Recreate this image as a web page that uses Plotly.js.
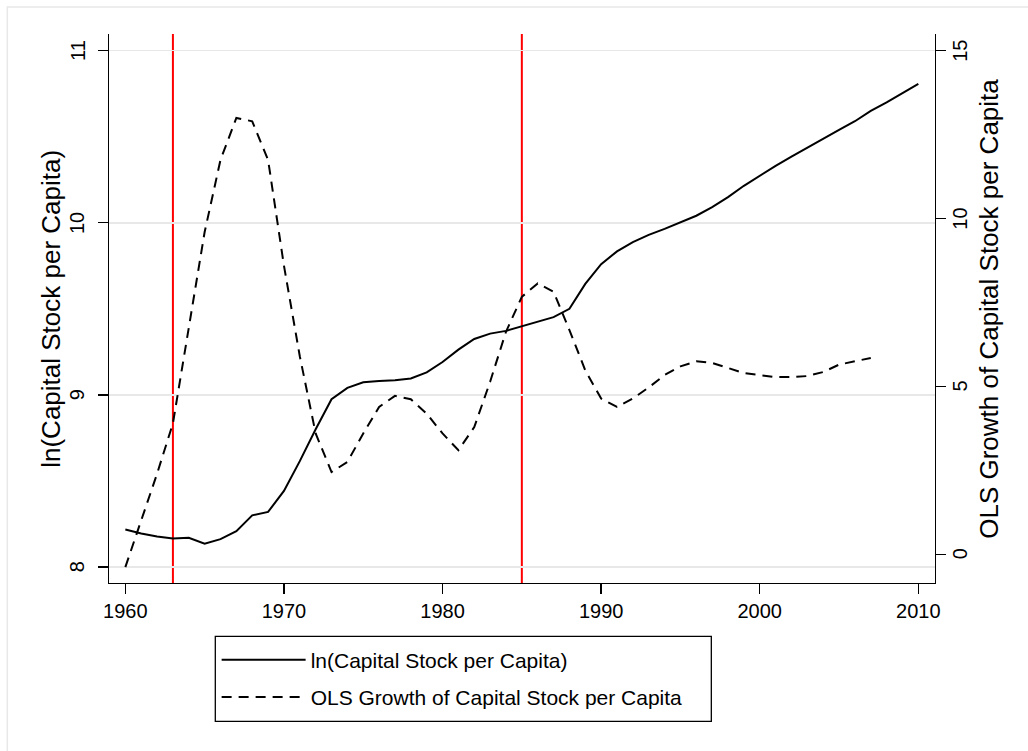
<!DOCTYPE html>
<html>
<head>
<meta charset="utf-8">
<script src="https://cdn.plot.ly/plotly-3.0.1.min.js"></script>
<style>html,body{margin:0;padding:0;background:#fff;}#chart{width:1028px;height:751px;}</style>
</head>
<body>
<div id="chart"></div>
<script>
const years = [1960,1961,1962,1963,1964,1965,1966,1967,1968,1969,1970,1971,1972,1973,1974,1975,1976,1977,1978,1979,1980,1981,1982,1983,1984,1985,1986,1987,1988,1989,1990,1991,1992,1993,1994,1995,1996,1997,1998,1999,2000,2001,2002,2003,2004,2005,2006,2007,2008,2009,2010];
const lnCapital = [8.218,8.195,8.177,8.165,8.170,8.135,8.162,8.208,8.300,8.320,8.442,8.615,8.800,8.975,9.041,9.073,9.081,9.085,9.095,9.131,9.191,9.263,9.325,9.356,9.372,9.398,9.423,9.452,9.500,9.645,9.760,9.834,9.888,9.930,9.965,10.004,10.041,10.091,10.149,10.215,10.275,10.331,10.385,10.437,10.492,10.540,10.590,10.650,10.700,10.753,10.807];
const growthYears = [1960,1961,1962,1963,1964,1965,1966,1967,1968,1969,1970,1971,1972,1973,1974,1975,1976,1977,1978,1979,1980,1981,1982,1983,1984,1985,1986,1987,1988,1989,1990,1991,1992,1993,1994,1995,1996,1997,1998,1999,2000,2001,2002,2003,2004,2005,2006,2007];
const olsGrowth = [-0.38,1.0,2.4,3.9,6.8,9.6,11.75,13.0,12.9,11.75,8.6,5.9,3.6,2.45,2.75,3.6,4.39,4.72,4.62,4.19,3.6,3.10,3.79,5.14,6.63,7.67,8.07,7.82,6.68,5.48,4.64,4.39,4.64,4.97,5.34,5.60,5.75,5.70,5.55,5.40,5.34,5.28,5.28,5.31,5.43,5.65,5.75,5.85];
const breakYears = [1963, 1985];
const xTicks = [1960,1970,1980,1990,2000,2010];
const yLeftTicks = [8,9,10,11];
const yRightTicks = [0,5,10,15];
const seriesNames = ["ln(Capital Stock per Capita)", "OLS Growth of Capital Stock per Capita"];

const FONT = "Liberation Sans, Arial, Helvetica, sans-serif";

const traces = [
  {x: years, y: lnCapital, type: 'scatter', mode: 'lines', name: seriesNames[0],
   line: {color: '#000', width: 2}, yaxis: 'y', legendgroup: 'a'},
  {x: growthYears, y: olsGrowth, type: 'scatter', mode: 'lines', name: seriesNames[1],
   line: {color: '#000', width: 2, dash: '10px,7px'}, yaxis: 'y2', legendgroup: 'b'}
];

const shapes = breakYears.map(yr => ({
  type: 'line', xref: 'x', yref: 'paper', x0: yr, x1: yr, y0: 0, y1: 1,
  line: {color: '#ff0000', width: 2}, layer: 'below'
}));
// outer graph-region frame
shapes.push({type: 'rect', xref: 'paper', yref: 'paper', x0: -0.1231, x1: 1.13, y0: -0.33, y1: 1.0492,
  line: {color: '#e8e8e8', width: 1.5}, fillcolor: 'rgba(0,0,0,0)', layer: 'below'});
// legend frame
shapes.push({type: 'rect', xref: 'paper', yref: 'paper', x0: 0.1287, x1: 0.7292, y0: -0.2521, y1: -0.0971,
  line: {color: '#000', width: 1.3}, fillcolor: 'rgba(0,0,0,0)', layer: 'above'});

const titleFont = {family: FONT, size: 26, color: '#000'};
const tickFont = {family: FONT, size: 20, color: '#000'};
const annotations = [
  {text: seriesNames[0], xref: 'paper', yref: 'paper', x: -0.0711, y: 0.5, xanchor: 'center', yanchor: 'middle',
   textangle: -90, showarrow: false, font: titleFont},
  {text: seriesNames[1], xref: 'paper', yref: 'paper', x: 1.0645, y: 0.5, xanchor: 'center', yanchor: 'middle',
   textangle: -90, showarrow: false, font: titleFont}
];
yLeftTicks.forEach(v => annotations.push({text: String(v), xref: 'paper', yref: 'y', x: -0.0384, y: v,
  xanchor: 'center', yanchor: 'middle', textangle: -90, showarrow: false, font: tickFont}));
yRightTicks.forEach(v => annotations.push({text: String(v), xref: 'paper', yref: 'y2', x: 1.0303, y: v,
  xanchor: 'center', yanchor: 'middle', textangle: -90, showarrow: false, font: tickFont}));

const layout = {
  width: 1028, height: 751,
  margin: {l: 108.7, r: 93.3, t: 34, b: 168.3},
  paper_bgcolor: '#fff', plot_bgcolor: '#fff',
  font: {family: FONT, color: '#000', size: 20},
  showlegend: true,
  legend: {x: 0.1303, xanchor: 'left', y: -0.1032, yanchor: 'top',
    borderwidth: 0, bgcolor: 'rgba(0,0,0,0)',
    font: {family: FONT, size: 21, color: '#000'}, itemwidth: 84, tracegroupgap: 7},
  xaxis: {range: [1958.97, 2011.05], tickvals: xTicks, ticktext: xTicks.map(String),
    showgrid: false, zeroline: false, showline: true, linecolor: '#000', linewidth: 1.3,
    ticks: 'outside', ticklen: 10, tickwidth: 1.3, tickcolor: '#000',
    tickfont: tickFont},
  yaxis: {range: [7.907, 11.097], tickvals: yLeftTicks, showticklabels: false,
    showgrid: true, gridcolor: '#e8e8e8', gridwidth: 1.5, zeroline: false,
    showline: true, linecolor: '#000', linewidth: 1.3,
    ticks: 'outside', ticklen: 10, tickwidth: 1.3, tickcolor: '#000'},
  yaxis2: {range: [-0.855, 15.5], tickvals: yRightTicks, showticklabels: false,
    overlaying: 'y', side: 'right', showgrid: false, zeroline: false,
    showline: true, linecolor: '#000', linewidth: 1.3,
    ticks: 'outside', ticklen: 10, tickwidth: 1.3, tickcolor: '#000'},
  shapes: shapes,
  annotations: annotations
};

Plotly.newPlot('chart', traces, layout, {displayModeBar: false, staticPlot: true});
</script>
</body>
</html>
